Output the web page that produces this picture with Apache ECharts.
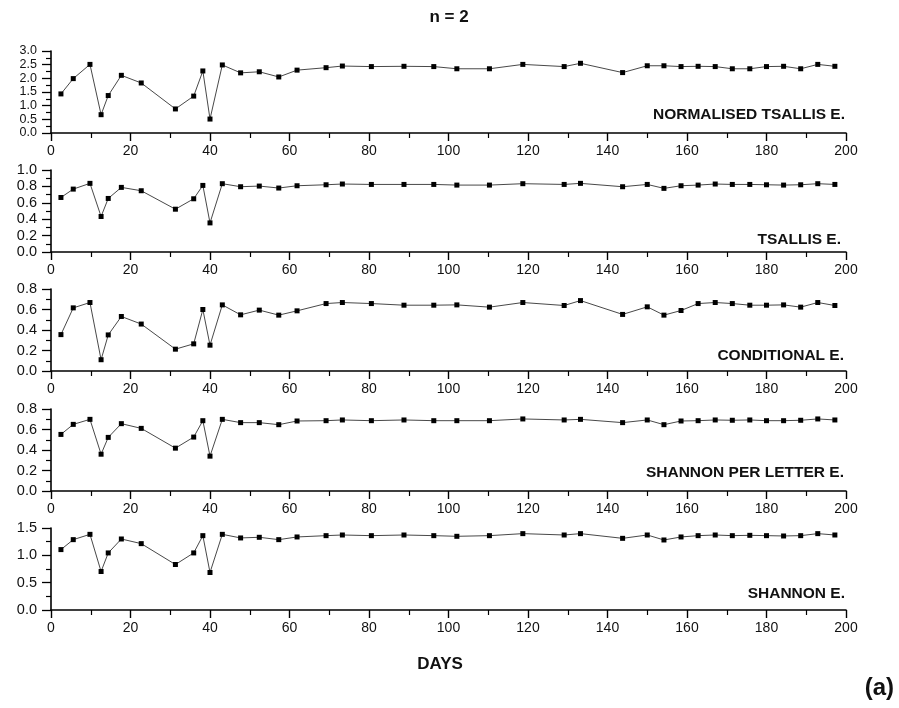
<!DOCTYPE html>
<html>
<head>
<meta charset="utf-8">
<script src="https://cdn.jsdelivr.net/npm/echarts@6/dist/echarts.min.js"></script>
<style>
  html, body { margin: 0; padding: 0; background: #fff; }
  #chart { width: 899px; height: 708px; }
</style>
</head>
<body>
<div id="chart"></div>
<script>
// Sampling days (shared by every panel)
const days = [2.5, 5.6, 9.8, 12.6, 14.4, 17.7, 22.7, 31.3, 35.9, 38.2, 40.0, 43.1, 47.7, 52.4, 57.3, 61.9,
  69.2, 73.3, 80.6, 88.8, 96.3, 102.1, 110.3, 118.7, 129.1, 133.2, 143.8, 150.0, 154.2, 158.5, 162.8,
  167.1, 171.4, 175.8, 180.0, 184.3, 188.6, 192.9, 197.2];

// Entropy measures, n = 2
const normalisedTsallis = [1.43, 1.99, 2.51, 0.67, 1.37, 2.11, 1.83, 0.88, 1.35, 2.27, 0.51, 2.49, 2.20, 2.24, 2.05, 2.30,
  2.39, 2.45, 2.43, 2.44, 2.43, 2.35, 2.35, 2.51, 2.43, 2.55, 2.21, 2.46, 2.46, 2.43, 2.44,
  2.43, 2.35, 2.35, 2.43, 2.44, 2.35, 2.51, 2.44];
const tsallis = [0.665, 0.767, 0.837, 0.433, 0.653, 0.788, 0.747, 0.522, 0.649, 0.812, 0.355, 0.833, 0.796, 0.804, 0.780, 0.808,
  0.820, 0.829, 0.824, 0.824, 0.824, 0.816, 0.816, 0.833, 0.824, 0.837, 0.796, 0.824, 0.776, 0.808, 0.816,
  0.829, 0.824, 0.824, 0.820, 0.816, 0.820, 0.833, 0.824];
const conditional = [0.355, 0.616, 0.668, 0.110, 0.352, 0.532, 0.458, 0.213, 0.265, 0.600, 0.252, 0.645, 0.548, 0.594, 0.545, 0.587,
  0.658, 0.668, 0.658, 0.642, 0.642, 0.645, 0.623, 0.668, 0.639, 0.687, 0.552, 0.626, 0.545, 0.590, 0.658,
  0.668, 0.658, 0.642, 0.642, 0.645, 0.623, 0.668, 0.639];
const shannonPerLetter = [0.552, 0.650, 0.699, 0.359, 0.523, 0.657, 0.611, 0.418, 0.526, 0.686, 0.340, 0.699, 0.667, 0.667, 0.647, 0.683,
  0.686, 0.693, 0.686, 0.693, 0.686, 0.686, 0.686, 0.703, 0.693, 0.699, 0.667, 0.693, 0.647, 0.683, 0.686,
  0.693, 0.690, 0.693, 0.686, 0.686, 0.690, 0.703, 0.693];
const shannon = [1.105, 1.287, 1.384, 0.704, 1.044, 1.299, 1.214, 0.832, 1.044, 1.360, 0.686, 1.384, 1.318, 1.330, 1.287, 1.336,
  1.360, 1.372, 1.360, 1.372, 1.360, 1.348, 1.360, 1.397, 1.372, 1.397, 1.311, 1.372, 1.281, 1.336, 1.360,
  1.372, 1.360, 1.366, 1.360, 1.354, 1.360, 1.397, 1.372];

// Panel captions and y-axis ranges
const panelNames = ['NORMALISED TSALLIS E.', 'TSALLIS E.', 'CONDITIONAL E.', 'SHANNON PER LETTER E.', 'SHANNON E.'];
const panelData = [normalisedTsallis, tsallis, conditional, shannonPerLetter, shannon];
const yMax = [3.0, 1.0, 0.8, 0.8, 1.5];
const yStep = [0.5, 0.2, 0.2, 0.2, 0.5];
const xTicks = { min: 0, max: 200, step: 20 };
const title = 'n = 2';
const xName = 'DAYS';
const tag = '(a)';

const FONT = '"Liberation Sans", Arial, sans-serif';
const gridTops = [51, 170, 289, 409, 528];
const gridH = 82;
const gridLeft = 51;
const gridRight = 53;
const captionRight = [845, 841, 844, 844, 845];
const captionMid = [115, 240, 356, 473, 594];
// the top panel packs its labels more tightly
const yLabelSize = [12.5, 14.5, 14.5, 14.5, 14.5];

const grids = [], xAxes = [], yAxes = [], series = [], graphics = [];

panelData.forEach((vals, i) => {
  grids.push({ left: gridLeft, right: gridRight, top: gridTops[i], height: gridH });
  xAxes.push({
    gridIndex: i, type: 'value', min: xTicks.min, max: xTicks.max, interval: xTicks.step,
    axisLine: { onZero: false, lineStyle: { color: '#000', width: 1.6 } },
    axisTick: { inside: false, length: 8, lineStyle: { color: '#000', width: 1.4 } },
    minorTick: { show: true, splitNumber: 2, length: 5, lineStyle: { color: '#000', width: 1.2 } },
    splitLine: { show: false },
    axisLabel: { color: '#111', fontFamily: FONT, fontSize: 14, margin: 11 }
  });
  yAxes.push({
    gridIndex: i, type: 'value', min: 0, max: yMax[i], interval: yStep[i],
    axisLine: { show: true, lineStyle: { color: '#000', width: 1.6 } },
    axisTick: { show: true, inside: false, length: 9, lineStyle: { color: '#000', width: 1.3 } },
    minorTick: { show: true, splitNumber: 2, length: 5, lineStyle: { color: '#000', width: 1.2 } },
    splitLine: { show: false },
    axisLabel: { color: '#111', fontFamily: FONT, fontSize: yLabelSize[i], margin: 14,
      showMinLabel: true, showMaxLabel: true, hideOverlap: false,
      formatter: v => v.toFixed(1) }
  });
  series.push({
    type: 'line', xAxisIndex: i, yAxisIndex: i,
    data: days.map((d, k) => [d, vals[k]]),
    symbol: 'rect', symbolSize: 5, showSymbol: true,
    lineStyle: { color: '#333', width: 0.9 },
    itemStyle: { color: '#000' },
    animation: false
  });
  graphics.push({
    type: 'text', x: captionRight[i], y: captionMid[i],
    style: { text: panelNames[i], font: 'bold 15.5px ' + FONT, fill: '#111',
      textAlign: 'right', textVerticalAlign: 'middle' }
  });
});

graphics.push({ type: 'text', x: 449, y: 17,
  style: { text: title, font: 'bold 17px ' + FONT, fill: '#111', textAlign: 'center', textVerticalAlign: 'middle' } });
graphics.push({ type: 'text', x: 440, y: 664,
  style: { text: xName, font: 'bold 17px ' + FONT, fill: '#111', textAlign: 'center', textVerticalAlign: 'middle' } });
graphics.push({ type: 'text', x: 894, y: 688,
  style: { text: tag, font: 'bold 24px ' + FONT, fill: '#111', textAlign: 'right', textVerticalAlign: 'middle' } });

const chart = echarts.init(document.getElementById('chart'), null, { renderer: 'canvas' });
chart.setOption({
  backgroundColor: '#fff',
  animation: false,
  grid: grids, xAxis: xAxes, yAxis: yAxes, series: series,
  graphic: graphics
});
</script>
</body>
</html>
